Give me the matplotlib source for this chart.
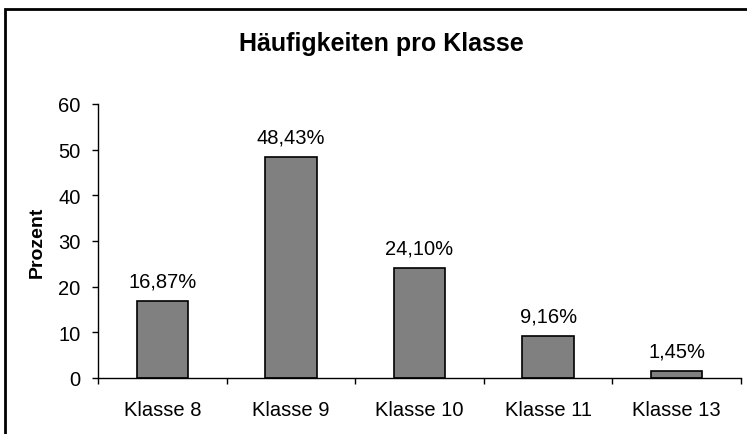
import matplotlib.pyplot as plt
from matplotlib.patches import Rectangle

# Daten
klassen = ["Klasse 8", "Klasse 9", "Klasse 10", "Klasse 11", "Klasse 13"]
prozent = [16.87, 48.43, 24.10, 9.16, 1.45]
y_ticks = [0, 10, 20, 30, 40, 50, 60]

plt.rcParams["font.family"] = ["Liberation Sans", "DejaVu Sans"]

fig = plt.figure(figsize=(7.47, 4.35), dpi=100)
ax = fig.add_axes([98 / 747, 1 - 379 / 435, (741 - 98) / 747, (379 - 105) / 435])

x = range(len(klassen))
bars = ax.bar(x, prozent, width=0.4, color="#808080", edgecolor="black", linewidth=1.2)

for i, v in enumerate(prozent):
    label = f"{v:.2f}%".replace(".", ",")
    ax.annotate(label, (i, v), xytext=(0, 10.5), textcoords="offset points",
                ha="center", va="baseline", fontsize=14.5)

ax.set_xlim(-0.5, len(klassen) - 0.5)
ax.set_ylim(0, 60)
ax.set_yticks(y_ticks)
ax.set_xticks(list(x))
ax.set_xticklabels(klassen, fontsize=14.5)
ax.set_xticks([i - 0.5 for i in range(len(klassen) + 1)], minor=True)
ax.tick_params(axis="x", which="major", length=0, pad=16)
ax.tick_params(axis="x", which="minor", length=4.5, width=1, color="black", direction="out")
ax.tick_params(axis="y", length=4.5, width=1, labelsize=14.5, pad=8)

for s in ["top", "right"]:
    ax.spines[s].set_visible(False)
for s in ["left", "bottom"]:
    ax.spines[s].set_linewidth(1)
    ax.spines[s].set_color("black")

ax.set_ylabel("Prozent", fontsize=14, fontweight="bold")
ax.yaxis.set_label_coords((46 - 98) / (741 - 98), 0.5)
fig.text(381 / 747, 1 - 51 / 435, "Häufigkeiten pro Klasse", ha="center", va="baseline",
         fontsize=18, fontweight="bold")

# Rahmen um das Diagramm
fig.patches.append(Rectangle((5 / 747, -0.1), 1.2, 1 - 10 / 435 + 0.1,
                             transform=fig.transFigure, fill=False,
                             edgecolor="black", linewidth=2))

fig.savefig("out.png", dpi=100)
